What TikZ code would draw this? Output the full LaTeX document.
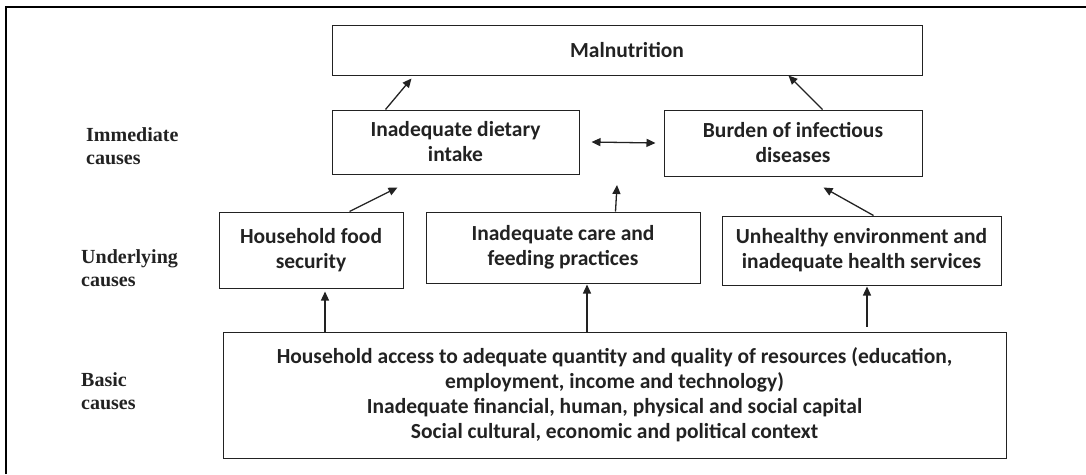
\documentclass[tikz,border=0pt]{standalone}
\usepackage{fontspec}
\setmainfont{Carlito}
\newfontfamily\labfont{Liberation Serif}
\usetikzlibrary{arrows.meta}
\definecolor{ink}{HTML}{222222}
\begin{document}
\begin{tikzpicture}[x=1pt,y=1pt,
  box/.style={draw=ink,line width=1pt,inner sep=0pt,align=center,text=ink,
    font=\fontsize{21.5}{25}\selectfont\bfseries},
  lab/.style={anchor=west,align=left,text=ink,inner sep=0pt,
    font=\labfont\fontsize{20}{23}\selectfont\bfseries},
  arr/.style={draw=ink,line width=1.3pt,-{Triangle[length=9pt,width=8pt]}},
  darr/.style={draw=ink,line width=1.3pt,{Triangle[length=9pt,width=8pt]}-{Triangle[length=9pt,width=8pt]}}]
\useasboundingbox (0,0) rectangle (1086,-474);
\draw[line width=2.2pt,black] (6,-474) -- (6,-7) -- (1086,-7);

\node[box,minimum width=590pt,minimum height=50pt] (mal) at (627,-50) {Malnutrition};
\node[box,minimum width=247pt,minimum height=64pt] (diet) at (455.5,-142) {Inadequate dietary\\intake};
\node[box,minimum width=258pt,minimum height=66pt] (burden) at (793,-143) {Burden of infectious\\diseases};
\node[box,minimum width=184pt,minimum height=76pt] (food) at (311,-250) {Household food\\security};
\node[box,minimum width=274pt,minimum height=71pt] (care) at (563,-247.5) {Inadequate care and\\feeding practices};
\node[box,minimum width=279pt,minimum height=69pt] (unh) at (861.5,-250.5) {Unhealthy environment and\\inadequate health services};
\node[box,minimum width=783pt,minimum height=126pt] (basic) at (614.5,-395) {Household access to adequate quantity and quality of resources (education,\\employment, income and technology)\\Inadequate financial, human, physical and social capital\\Social cultural, economic and political context};

\node[lab] (limm) at (86,-146) {Immediate\\causes};
\node[lab] (lund) at (81,-268) {Underlying\\causes};
\node[lab] (lbas) at (81,-391) {Basic\\causes};

\coordinate (mid) at (617,-185);

\draw[arr] ([xshift=54pt]diet.north west) -- ([xshift=80pt,yshift=-3pt]mal.south west);
\draw[arr] ([xshift=-100pt]burden.north east) -- ([xshift=-134pt]mal.south east);
\draw[darr] ([xshift=12pt]diet.east) -- ([xshift=-8pt]burden.west);
\draw[arr] ([xshift=131pt]food.north west) -- ([xshift=66pt,yshift=-13pt]diet.south west);
\draw[arr] ([xshift=190pt]care.north west) -- (mid);
\draw[arr] ([xshift=152pt]unh.north west) -- ([xshift=-99pt,yshift=-11pt]burden.south east);
\draw[arr] (basic.north west -| 325,0) -- ([yshift=-3pt]food.south west -| 325,0);
\draw[arr] (basic.north west -| 587,0) -- ([yshift=-1pt]care.south west -| 587,0);
\draw[arr] ([yshift=5pt]basic.north west -| 867,0) -- ([yshift=-1pt]unh.south west -| 867,0);
\end{tikzpicture}
\end{document}
